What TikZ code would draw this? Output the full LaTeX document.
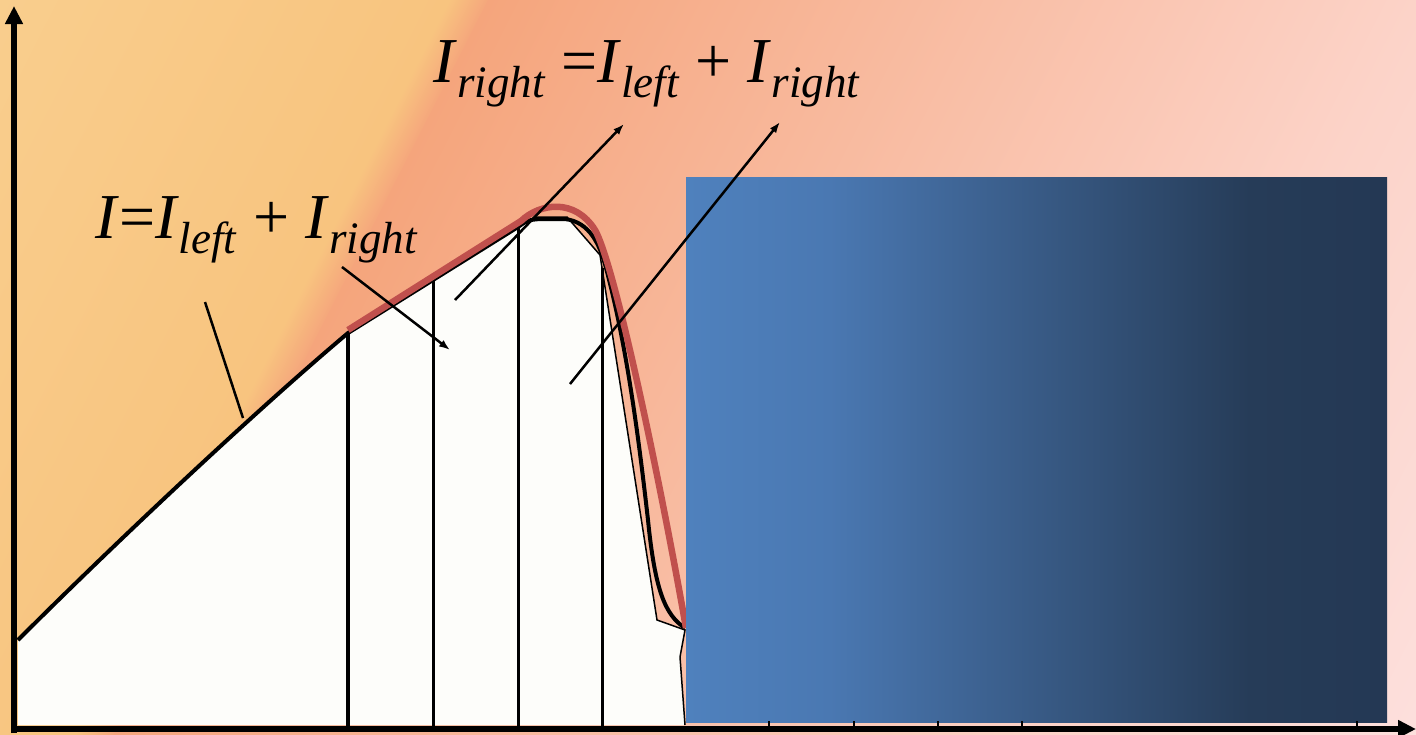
\documentclass[tikz,border=0pt]{standalone}
\usepackage{fontspec}
\setmainfont{Liberation Serif}
\usepackage{tikz}
\usetikzlibrary{
	arrows.meta,
	positioning
}
\definecolor{Wheat}{RGB}{250,213,152}
\definecolor{Amber}{RGB}{248,196,127}
\definecolor{Salmon}{RGB}{245,165,124}
\definecolor{Blush}{RGB}{252,211,200}
\definecolor{PalePink}{RGB}{253,229,230}
\definecolor{PaperWhite}{RGB}{253,253,250}
\definecolor{CurveRed}{RGB}{192,80,77}
\definecolor{SteelBlue}{RGB}{79,129,189}
\definecolor{MidBlue}{RGB}{74,120,178}
\definecolor{NavyBlue}{RGB}{38,60,88}
\definecolor{DeepNavy}{RGB}{36,56,84}
\newcommand{\cur}[1]{\textit{I}\raisebox{-15pt}{\fontsize{45}{45}\selectfont\textit{#1}}}

\begin{document}
\begin{tikzpicture}[x=1pt, y=-1pt, font={\fontsize{64}{76}\selectfont},
	pointer/.style={line width=2.5pt},
	tip/.style={-{Latex[length=11pt,width=8pt]}},
	axis/.style={line width=6pt, -{Triangle[length=18pt,width=17pt]}}]
		\useasboundingbox (0,0) rectangle (1416,734);
		% 背景渐变
		\begin{scope}
			\clip (0,0) rectangle (1416,734);
			\begin{scope}[transform canvas={rotate=-27}]
				\shade[left color=Wheat, right color=Amber] (-300,-900) rectangle (402,900);
				\shade[left color=Amber, right color=Salmon] (400,-900) rectangle (437,900);
				\shade[left color=Salmon, right color=Blush] (435,-900) rectangle (1262,900);
				\shade[left color=Blush, right color=PalePink] (1260,-900) rectangle (1750,900);
			\end{scope}
		\end{scope}
		% 积分区域
		\fill[PaperWhite] (18,725) -- (18,640) .. controls (120,538) and (260,407) .. (348,333)
			-- (518,227) -- (535,217) -- (567,217) -- (600,255) -- (657,620) -- (685,630)
			-- (680,657) -- (685,725) -- cycle;
		\draw[line width=1.5pt] (518,227) -- (535,217) -- (567,217) -- (600,255) -- (657,620)
			-- (685,630) -- (680,657) -- (685,725);
		\draw[line width=4pt] (18,640) .. controls (120,538) and (260,407) .. (348,333) -- (518,227)
			.. controls (528,220) .. (540,219) -- (565,219) .. controls (590,222) and (600,245) .. (606,268)
			.. controls (628,350) and (640,450) .. (648,520) .. controls (655,590) and (665,615) .. (685,628);
		\draw[line width=3.5pt] (348,333) -- (348,727);
		\foreach \x/\y in {433/280, 518/227, 602/268}
			\draw[line width=3pt] (\x,\y) -- (\x,727);
		\draw[CurveRed, line width=6.5pt] (348,330) -- (521,221) .. controls (540,203) and (575,198) .. (595,230)
			.. controls (615,265) and (660,480) .. (686,628);
		% 右侧色块
		\shade[left color=SteelBlue, right color=MidBlue] (686,177) rectangle (830,722);
		\shade[left color=MidBlue, right color=NavyBlue] (829,177) rectangle (1250,722);
		\shade[left color=NavyBlue, right color=DeepNavy] (1249,177) rectangle (1387,722);
		% 标注
		\node[anchor=base west, inner sep=0] (total) at (95,238) {\textit{I}=\cur{left} + \cur{right}};
		\node[anchor=base west, inner sep=0] (split) at (433,82) {\cur{right} =\cur{left} + \cur{right}};
		\coordinate (a1) at (205,302);
		\coordinate (b1) at (243,418);
		\coordinate (a2) at (342,267);
		\coordinate (b2) at (450,350);
		\coordinate (a3) at (455,300);
		\coordinate (b3) at (624,124);
		\coordinate (a4) at (570,384);
		\coordinate (b4) at (780,122);
		\draw[pointer] (a1) -- (b1);
		\draw[pointer, tip] (a2) -- (b2);
		\draw[pointer, tip] (a3) -- (b3);
		\draw[pointer, tip] (a4) -- (b4);
		% 坐标轴
		\coordinate (O) at (14,729);
		\coordinate (ytop) at (14,6);
		\coordinate (xend) at (1416,729);
		\draw[axis] (14,733) -- (ytop);
		\draw[axis] (11,729) -- (xend);
		\foreach \x in {769,854,938,1022,1357}
			\draw[line width=1.5pt] (\x,721) -- (\x,727);
	\end{tikzpicture}
\end{document}
